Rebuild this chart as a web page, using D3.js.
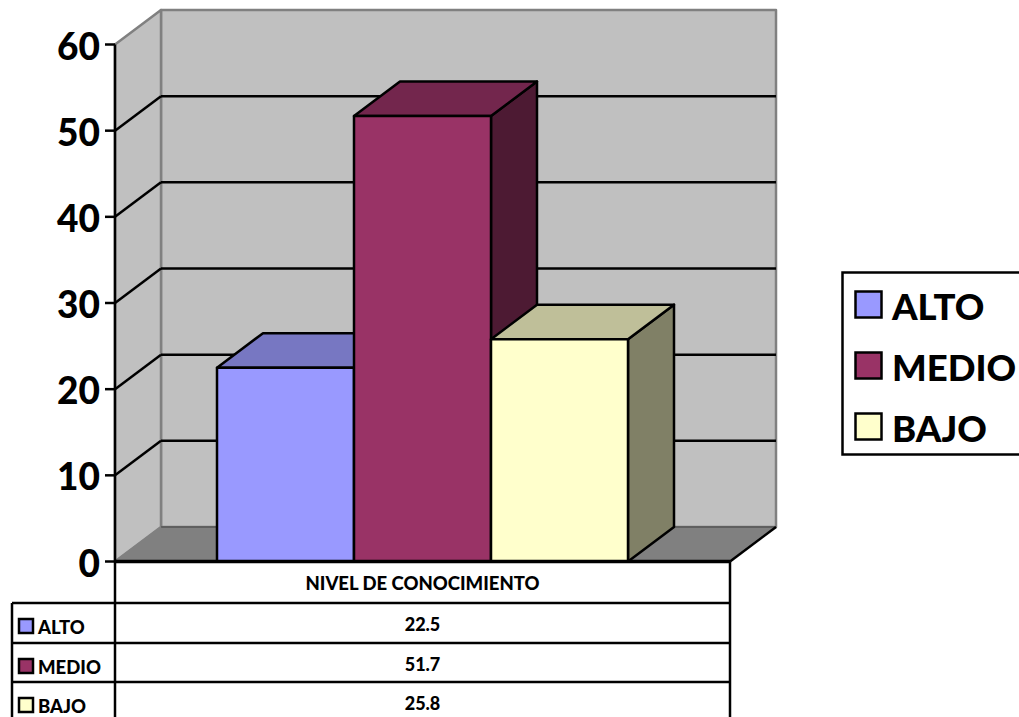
<!DOCTYPE html>
<html><head><meta charset="utf-8">
<script src="https://cdn.jsdelivr.net/npm/d3@7"></script>
<style>html,body{margin:0;padding:0;background:#fff;overflow:hidden}svg{display:block}text{font-family:Lato,"Open Sans",sans-serif;font-weight:900;fill:#000}</style>
</head><body><svg id="c" width="1019" height="717"></svg>
<script>
const categories = ["ALTO","MEDIO","BAJO"];
const values = [22.5,51.7,25.8];
const axisTitle = "NIVEL DE CONOCIMIENTO";
const ticks = [0,10,20,30,40,50,60];
const fronts = ["#9999ff","#993366","#ffffcc"];
const tops = ["#7777c2","#73264d","#bfbf99"];
const sides = ["#5c5c99","#4d1a33","#808066"];

const svg = d3.select("#c");
const dx = 46, dy = -34.5;
const x0 = 115, x1 = 730;
const y = d3.scaleLinear().domain([0,60]).range([561.5,44.5]);
const x = d3.scaleBand().domain(categories).range([217,628]);
const poly = (pts,fill,stroke,sw)=>svg.append("polygon").attr("points",pts.map(p=>p.join(",")).join(" "))
  .attr("fill",fill).attr("stroke",stroke||"none").attr("stroke-width",sw||0).attr("stroke-linejoin","round");
const line = (a,b,c,d,col,w)=>svg.append("line").attr("x1",a).attr("y1",b).attr("x2",c).attr("y2",d).attr("stroke",col).attr("stroke-width",w);

// walls and floor
poly([[x0+dx,y(60)+dy],[x1+dx,y(60)+dy],[x1+dx,y(0)+dy],[x0+dx,y(0)+dy]],"#c0c0c0","#808080",2.5);
poly([[x0,y(60)],[x0+dx,y(60)+dy],[x0+dx,y(0)+dy],[x0,y(0)]],"#c0c0c0","#808080",2.5);
poly([[x0,y(0)],[x0+dx,y(0)+dy],[x1+dx,y(0)+dy],[x1,y(0)]],"#808080");
line(x0+dx,y(0)+dy,x1+dx,y(0)+dy,"#555",1.5);
line(x0,y(0),x0+dx,y(0)+dy,"#808080",1.5);
line(x1,y(0),x1+dx,y(0)+dy,"#000",2.5);

// gridlines
ticks.filter(t=>t>0&&t<60).forEach(t=>{
  line(x0,y(t),x0+dx,y(t)+dy,"#000",2.5);
  line(x0+dx,y(t)+dy,x1+dx,y(t)+dy,"#000",2.5);
});

// bars, drawn left to right
categories.forEach((c,i)=>{
  const l=x(c), r=l+x.bandwidth(), t=y(values[i]), b=y(0);
  poly([[r,t],[r+dx,t+dy],[r+dx,b+dy],[r,b]],sides[i],"#000",2.5);
  poly([[l,t],[l+dx,t+dy],[r+dx,t+dy],[r,t]],tops[i],"#000",2.5);
  poly([[l,t],[r,t],[r,b],[l,b]],fronts[i],"#000",2.5);
});

// value axis
line(x0,y(60),x0,y(0),"#000",2.5);
ticks.forEach(t=>{
  line(x0-10,y(t),x0,y(t),"#000",2.5);
  svg.append("text").attr("x",x0-15).attr("y",y(t)+15).attr("text-anchor","end").attr("font-size",37).text(t);
});

// data table
const rowY = [561.5,603,643,682,722];
const tableLeft = 12;
line(x0,rowY[0],x1,rowY[0],"#000",3.5);
line(x0,rowY[0],x0,717,"#000",2.5);
line(x1,rowY[0],x1,717,"#000",2.5);
line(tableLeft,rowY[1],tableLeft,717,"#000",2.5);
rowY.slice(1,4).forEach(v=>line(tableLeft,v,x1,v,"#000",2.5));
const mid=(x0+x1)/2;
svg.append("text").attr("x",mid).attr("y",590).attr("text-anchor","middle").attr("font-size",18.5).text(axisTitle);
categories.forEach((c,i)=>{
  const ry=rowY[i+1];
  svg.append("rect").attr("x",19).attr("y",ry+16).attr("width",14).attr("height",14).attr("fill",fronts[i]).attr("stroke","#000").attr("stroke-width",2.5);
  svg.append("text").attr("x",38).attr("y",ry+31).attr("font-size",18.5).text(c);
  svg.append("text").attr("x",mid).attr("y",ry+28).attr("text-anchor","middle").attr("font-size",18).text(values[i]);
});

// legend
svg.append("rect").attr("x",842.5).attr("y",272.5).attr("width",200).attr("height",182).attr("fill","#fff").attr("stroke","#000").attr("stroke-width",2.5);
const legendY=[291,352,413];
categories.forEach((c,i)=>{
  svg.append("rect").attr("x",855.5).attr("y",legendY[i]+.5).attr("width",26).attr("height",26).attr("fill",fronts[i]).attr("stroke","#000").attr("stroke-width",2.5);
  svg.append("text").attr("x",892).attr("y",legendY[i]+28.5).attr("font-size",36.5).text(c);
});
</script></body></html>
